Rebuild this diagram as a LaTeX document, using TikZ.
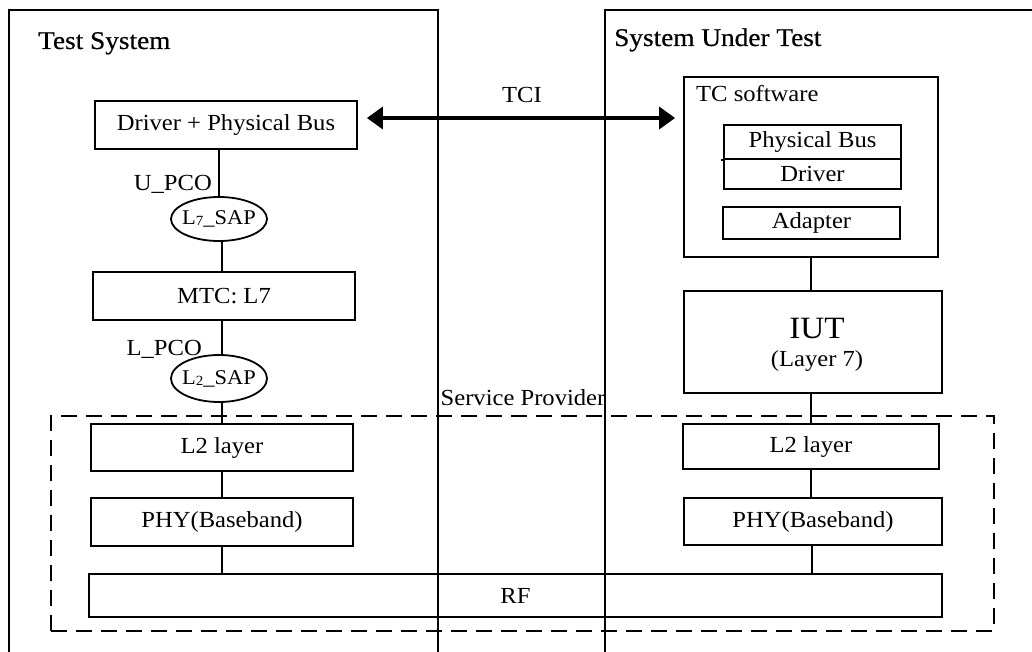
\documentclass[tikz,border=0pt]{standalone}
\usepackage{fontspec}
\setmainfont[FakeStretch=1.07]{Liberation Serif}
\newfontfamily\headfont[FakeStretch=1.07,FakeBold=0.5]{Liberation Serif}
\usetikzlibrary{shapes.geometric,arrows.meta,calc}

\newcommand{\txt}{\fontsize{23}{26}\selectfont}
\newcommand{\saptxt}{\fontsize{21}{24}\selectfont}
\newcommand{\subdigit}[1]{\raisebox{-1pt}{\fontsize{14}{14}\selectfont #1}}

\begin{document}
\begin{tikzpicture}[x=1pt,y=-1pt,
  every node/.style={font=\txt, inner sep=0pt, text=black},
  frame/.style={line width=1.8pt},
  layerbox/.style={draw, line width=1.8pt, rectangle},
  sapnode/.style={draw, ellipse, line width=1.8pt, minimum width=96pt},
  link/.style={line width=1.8pt},
  spbox/.style={draw, line width=1.8pt, dash pattern=on 16pt off 9pt, rectangle},
  tcilink/.style={line width=3.6pt,
    {Triangle[length=16pt,width=22pt]}-{Triangle[length=16pt,width=22pt]}},
  heading/.style={font=\headfont\fontsize{25.5}{28}\selectfont, anchor=base west},
  caption/.style={anchor=base}
]
\useasboundingbox (0,0) rectangle (1032,652);
\fill[white] (0,0) rectangle (1032,652);

% the two system frames, open towards the page edges
\coordinate (tsBL) at (9,652);
\coordinate (tsTL) at (9,10);
\coordinate (tsTR) at (438,10);
\coordinate (tsBR) at (438,652);
\draw[frame] (tsBL) -- (tsTL) -- (tsTR) -- (tsBR);
\coordinate (sutBL) at (605,652);
\coordinate (sutTL) at (605,10);
\coordinate (sutTR) at (1032,10);
\draw[frame] (sutBL) -- (sutTL) -- (sutTR);

\node[heading] (tsTitle) at (38,49) {Test System};
\node[heading] (sutTitle) at (614,46) {System Under Test};

% service provider region
\node[spbox, minimum width=943pt, minimum height=215pt] (sp) at (522.5,523.5) {};
\node[caption] (spTitle) at (523,405) {Service Provider};

% test system stack
\node[layerbox, minimum width=262pt, minimum height=48pt] (drv) at (226,125) {Driver + Physical Bus};
\node[sapnode, minimum height=44pt] (sap7) at (219,219)
  {\makebox[0pt]{\saptxt L\subdigit{7}\_SAP}};
\node[layerbox, minimum width=262pt, minimum height=48pt] (mtc) at (224,296) {MTC: L7};
\node[sapnode, minimum height=47pt] (sap2) at (219,378.5)
  {\makebox[0pt]{\saptxt L\subdigit{2}\_SAP}};
\node[layerbox, minimum width=262pt, minimum height=47pt] (l2L) at (222,447.5) {L2 layer};
\node[layerbox, minimum width=262pt, minimum height=48pt] (phyL) at (222,522) {PHY(Baseband)};

\node[anchor=base east] (upco) at (212,191) {U\_PCO};
\node[anchor=base east] (lpco) at (202,355) {L\_PCO};

% shared radio layer
\node[layerbox, minimum width=853pt, minimum height=43pt] (rf) at (515.5,595.5) {RF};

% system under test stack
\node[layerbox, minimum width=254pt, minimum height=180pt] (tc) at (811,167) {};
\node[anchor=base west] (tcTitle) at (696,102) {TC software};
\node[layerbox, minimum width=177pt, minimum height=34pt] (pbus) at (812.5,142) {Physical Bus};
\node[layerbox, minimum width=177pt, minimum height=30pt] (drvR) at (812.5,174) {Driver};
\draw[link] (pbus.south west) -- ++(-2,0);
\node[layerbox, minimum width=177pt, minimum height=32pt] (adapter) at (811.5,223) {Adapter};

\node[layerbox, minimum width=258pt, minimum height=102pt] (iut) at (813,342) {};
\node[caption, font=\fontsize{31}{34}\selectfont] (iutName) at (817,338) {IUT};
\node[caption] (iutLayer) at (817,366) {(Layer 7)};

\node[layerbox, minimum width=256pt, minimum height=45pt] (l2R) at (811,446.5) {L2 layer};
\node[layerbox, minimum width=258pt, minimum height=47pt] (phyR) at (813,521.5) {PHY(Baseband)};

% vertical links
\draw[link] (sap7.north) -- (sap7.north |- drv.south);
\draw[link] ([xshift=3pt]sap7.south) -- ([xshift=3pt]sap7.south |- mtc.north);
\draw[link] ([xshift=3pt]sap2.north) -- ([xshift=3pt]sap2.north |- mtc.south);
\draw[link] ([xshift=3pt]sap2.south) -- ([xshift=3pt]sap2.south |- l2L.north);
\draw[link] (l2L.south) -- (l2L.south |- phyL.north);
\draw[link] (phyL.south) -- (phyL.south |- rf.north);
\draw[link] (tc.south) -- (tc.south |- iut.north);
\draw[link] (l2R.north) -- (l2R.north |- iut.south);
\draw[link] (l2R.south) -- (l2R.south |- phyR.north);
\draw[link] ([xshift=-1pt]phyR.south) -- ([xshift=-1pt]phyR.south |- rf.north);

% test control interface
\coordinate (tciL) at ([xshift=9pt,yshift=7pt]drv.east);
\coordinate (tciR) at ([xshift=-8pt]tc.west |- tciL);
\draw[tcilink] (tciL) -- (tciR);
\node[caption] (tciName) at (522,103) {TCI};
\end{tikzpicture}
\end{document}
